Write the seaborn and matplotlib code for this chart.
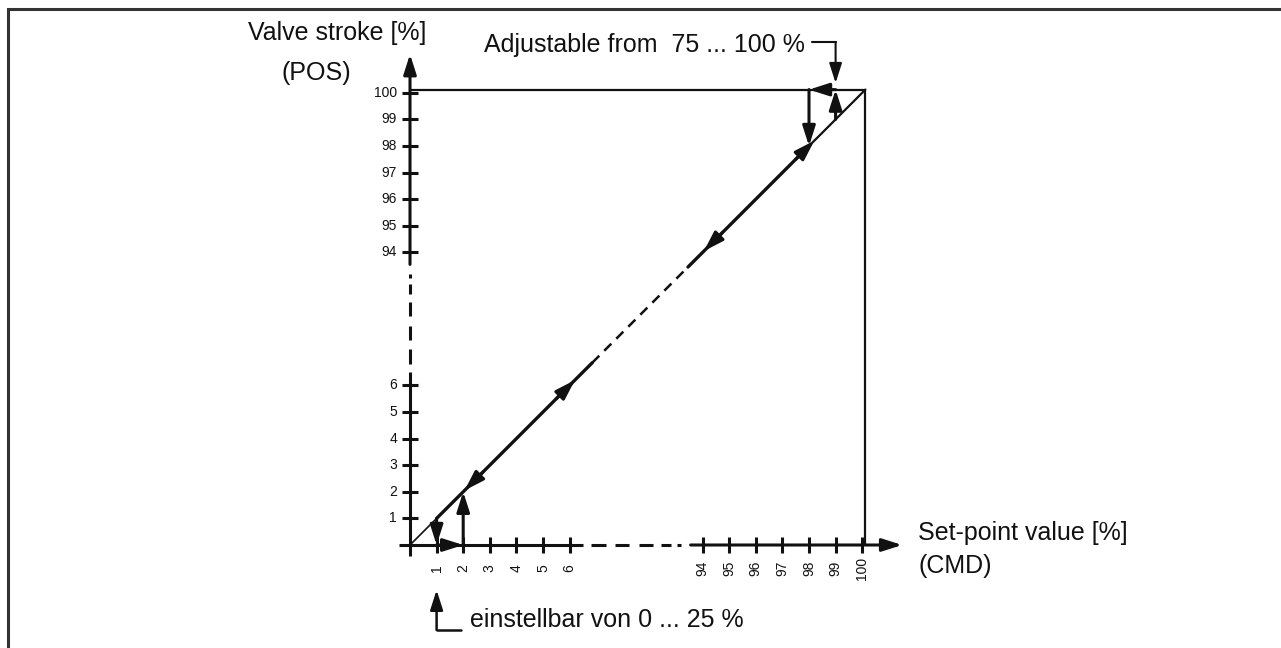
import numpy as np
import matplotlib.pyplot as plt
import seaborn as sns

# -----------------------------
# Données du diagramme
# -----------------------------
low_ticks = [1, 2, 3, 4, 5, 6]
high_ticks = [94, 95, 96, 97, 98, 99, 100]

# cycle de fermeture (CMD, POS)
low_cmd = [1, 1, 2, 2]
low_pos = [1, 0, 0, 2]
# cycle d'ouverture (CMD, POS)
high_cmd = [99, 99, 98, 98]
high_pos = [99, 100, 100, 98]

# flèches de direction sur la caractéristique (valeur, sens)
diag_arrow_at = [2, 6, 94, 98]
diag_arrow_dir = [-1, 1, -1, 1]

# parties pleines de la caractéristique
diag_lower = [1, 6.85]
diag_upper = [93.45, 98]

x_label = ["Set-point value [%]", "(CMD)"]
y_label = ["Valve stroke [%]", "(POS)"]
note_top = "Adjustable from  75 ... 100 %"
note_bottom = "einstellbar von 0 ... 25 %"
note_top_at = 99
note_bottom_at = 1

# -----------------------------
# Configuration générale
# -----------------------------
sns.set_theme(style="white")
plt.rcParams["font.family"] = ["Liberation Sans", "DejaVu Sans"]

W, H = 1281, 648
UNIT = 26.6          # pixels par pas de 1 %
X0, Y0 = 410, 545    # origine en pixels
SHIFT = 83           # coupure de l'axe entre 6 et 94
INK = "#111111"


def brk(v):
    v = np.asarray(v, dtype=float)
    return np.where(v > 50, v - SHIFT, v)


def px(x, y):
    return (x - X0) / UNIT, (Y0 - y) / UNIT


def seg(xs, ys, lw):
    sns.lineplot(x=xs, y=ys, ax=ax, color=INK, lw=lw, estimator=None,
                 sort=False, errorbar=None)


def arrow(p0, p1, lw=2.0):
    ax.annotate("", xy=p1, xytext=p0,
                arrowprops=dict(arrowstyle="-|>,head_length=1.0,head_width=0.32",
                                color=INK, lw=lw, shrinkA=0, shrinkB=0))


fig = plt.figure(figsize=(W / 100, H / 100), dpi=100)
ax = fig.add_axes([0, 0, 1, 1])
ax.set_xlim(-X0 / UNIT, (W - X0) / UNIT)
ax.set_ylim(-(H - Y0) / UNIT, Y0 / UNIT)
ax.axis("off")

# cadre (gauche + haut)
bx = [px(8, 648)[0], px(8, 9)[0], px(1281, 9)[0]]
by = [px(8, 648)[1], px(8, 9)[1], px(1281, 9)[1]]
ax.plot(bx, by, color="#333333", lw=2.2, solid_joinstyle="miter")

# -----------------------------
# Axes avec coupure
# -----------------------------
AX_LW = 2.2
axis_solid = [(-0.42, 6.5)]
axis_dashes = [(6.8, 7.35), (7.7, 8.25), (8.6, 9.15), (9.45, 9.8), (10.05, 10.2)]
for a, b in axis_solid + axis_dashes:
    ax.plot([a, b], [0, 0], color=INK, lw=AX_LW, solid_capstyle="butt")
    ax.plot([0, 0], [a, b], color=INK, lw=AX_LW, solid_capstyle="butt")
arrow((10.55, 0), (18.5, 0), lw=AX_LW)
arrow((0, 10.55), (0, 18.45), lw=AX_LW)

ticks = np.concatenate([brk(low_ticks), brk(high_ticks)])
ax.plot(ticks, np.zeros_like(ticks), ls="none", marker="|", ms=11,
        mew=AX_LW, color=INK)
ax.plot(np.zeros_like(ticks), ticks, ls="none", marker="_", ms=11,
        mew=AX_LW, color=INK)

tick_labels = [str(t) for t in low_ticks + high_ticks]
for t, lab in zip(ticks, tick_labels):
    ax.text(t, px(0, 568)[1], lab, rotation=90, ha="center", va="center",
            fontsize=10, color=INK)
    ax.text(px(397, 0)[0], t, lab, ha="right", va="center",
            fontsize=10, color=INK)

# -----------------------------
# Caractéristique et cadre 100 %
# -----------------------------
top = float(brk(100))
edge = top + 0.12
seg([0, edge], [edge, edge], 1.6)
seg([edge, edge], [0, edge], 1.6)

lo = brk(diag_lower)
hi = brk(diag_upper)
seg([0, lo[0]], [0, lo[0]], 1.2)
seg(lo, lo, 2.4)
seg(hi, hi, 2.4)
ax.plot([lo[1], hi[0]], [lo[1], hi[0]], color=INK, lw=1.8, dashes=(4, 2.8))
seg([hi[1], edge], [hi[1], edge], 1.6)

for v, d in zip(diag_arrow_at, diag_arrow_dir):
    tip = float(brk(v)) + (0.2 if d > 0 else 0.05)
    arrow((tip - 0.7 * d, tip - 0.7 * d), (tip, tip), lw=2.2)

# cycles d'hystérésis
for cmd, pos in [(low_cmd, low_pos), (high_cmd, high_pos)]:
    xs, ys = brk(cmd), brk(pos)
    ys = np.where(ys == top, edge, ys)
    for i in range(len(xs) - 1):
        arrow((xs[i], ys[i]), (xs[i + 1], ys[i + 1]), lw=2.2)

# -----------------------------
# Textes
# -----------------------------
FS = 18
ax.text(*px(337, 33), y_label[0], ha="center", va="center", fontsize=FS, color=INK)
ax.text(*px(316, 73), y_label[1], ha="center", va="center", fontsize=FS, color=INK)
ax.text(*px(918, 533), x_label[0], ha="left", va="center", fontsize=FS, color=INK)
ax.text(*px(918, 566), x_label[1], ha="left", va="center", fontsize=FS, color=INK)

# repère haut : 75 ... 100 %
nx = float(brk(note_top_at))
ny = px(0, 42)[1]
ax.text(*px(805, 45), note_top, ha="right", va="center", fontsize=FS, color=INK)
ax.plot([nx - 0.9, nx], [ny, ny], color=INK, lw=1.5)
arrow((nx, ny), (nx, px(0, 83)[1]), lw=1.5)

# repère bas : 0 ... 25 %
bxv = float(brk(note_bottom_at))
by0 = px(0, 630)[1]
ax.plot([bxv, bxv + 0.9], [by0, by0], color=INK, lw=1.8)
arrow((bxv, by0), (bxv, px(0, 590)[1]), lw=1.8)
ax.text(*px(470, 620), note_bottom, ha="left", va="center", fontsize=FS, color=INK)

plt.savefig("out.png", dpi=100)
plt.close()
